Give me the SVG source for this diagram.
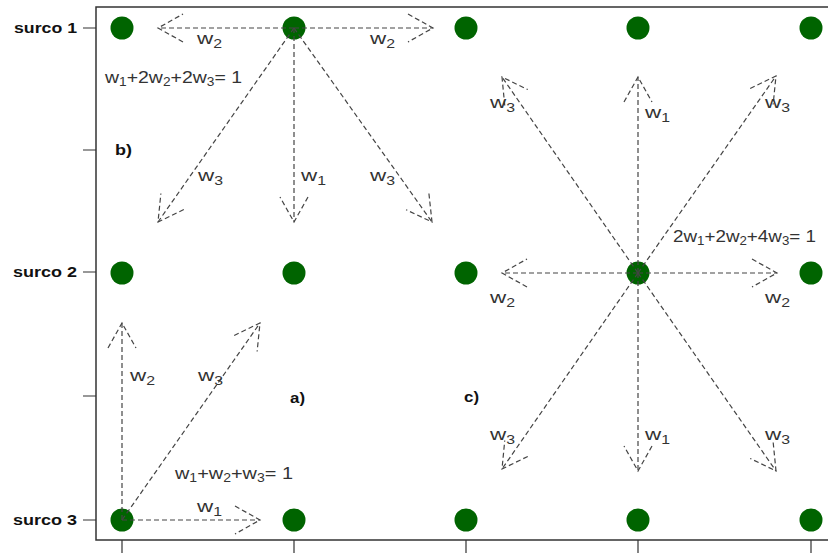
<svg xmlns="http://www.w3.org/2000/svg" width="828" height="553" viewBox="0 0 828 553">
<defs>
<style>
.frame{fill:none;stroke:#333;stroke-width:1.5}
.tick{stroke:#333;stroke-width:1.2}
.dot{fill:#006400}
.arr{fill:none;stroke:#444;stroke-width:1.2;stroke-dasharray:5 3;marker-end:url(#head)}
.lbl{font-family:"Liberation Sans",Arial,sans-serif;font-size:17px;fill:#333}
.sub{font-size:12px}
.bold{font-family:"Liberation Sans",Arial,sans-serif;font-size:15px;font-weight:bold;fill:#111}
</style>
<marker id="head" markerUnits="userSpaceOnUse" markerWidth="60" markerHeight="60" refX="0" refY="0" orient="auto" overflow="visible">
<path d="M -25 -14 L 0 0 L -25 14" fill="none" stroke="#444" stroke-width="1.2" stroke-dasharray="5 3"/>
</marker>
</defs>
<rect width="828" height="553" fill="#fff"/>
<g id="axes">
<path class="frame" d="M 830 7 H 96 V 540 H 830"/>
<path class="tick" d="M 83 28 H 96 M 83 150 H 96 M 83 272 H 96 M 83 396 H 96 M 83 520 H 96 M 122 540 V 553 M 294 540 V 553 M 466 540 V 553 M 638 540 V 553 M 811 540 V 553"/>
<text class="bold" x="77" y="33" text-anchor="end" textLength="63" lengthAdjust="spacingAndGlyphs">surco 1</text>
<text class="bold" x="77" y="277" text-anchor="end" textLength="64" lengthAdjust="spacingAndGlyphs">surco 2</text>
<text class="bold" x="77" y="525" text-anchor="end" textLength="64" lengthAdjust="spacingAndGlyphs">surco 3</text>
</g>
<g id="dots">
<circle class="dot" cx="122" cy="28" r="11.5"/><circle class="dot" cx="294" cy="28" r="11.5"/><circle class="dot" cx="466" cy="28" r="11.5"/><circle class="dot" cx="638" cy="28" r="11.5"/><circle class="dot" cx="811" cy="28" r="11.5"/>
<circle class="dot" cx="122" cy="273" r="11.5"/><circle class="dot" cx="294" cy="273" r="11.5"/><circle class="dot" cx="466" cy="273" r="11.5"/><circle class="dot" cx="638" cy="273" r="11.5"/><circle class="dot" cx="811" cy="273" r="11.5"/>
<circle class="dot" cx="122" cy="520" r="11.5"/><circle class="dot" cx="294" cy="520" r="11.5"/><circle class="dot" cx="466" cy="520" r="11.5"/><circle class="dot" cx="638" cy="520" r="11.5"/><circle class="dot" cx="811" cy="520" r="11.5"/>
</g>
<g id="connectors">
<line class="arr" x1="294" y1="28" x2="158" y2="28"/>
<line class="arr" x1="294" y1="28" x2="433" y2="28"/>
<line class="arr" x1="294" y1="28" x2="294" y2="222"/>
<line class="arr" x1="294" y1="28" x2="158" y2="222"/>
<line class="arr" x1="294" y1="28" x2="432" y2="222"/>
<line class="arr" x1="638" y1="273" x2="502" y2="77"/>
<line class="arr" x1="638" y1="273" x2="638" y2="77"/>
<line class="arr" x1="638" y1="273" x2="776" y2="76"/>
<line class="arr" x1="638" y1="273" x2="502" y2="273"/>
<line class="arr" x1="638" y1="273" x2="777" y2="273"/>
<line class="arr" x1="638" y1="273" x2="502" y2="469"/>
<line class="arr" x1="638" y1="273" x2="638" y2="471"/>
<line class="arr" x1="638" y1="273" x2="776" y2="471"/>
<line class="arr" x1="122" y1="520" x2="122" y2="323"/>
<line class="arr" x1="122" y1="520" x2="260" y2="323"/>
<line class="arr" x1="122" y1="520" x2="260" y2="520"/>
</g>
<g id="panel-b">
<text class="bold" x="115" y="155" textLength="17" lengthAdjust="spacingAndGlyphs">b)</text>
<text class="lbl" x="197" y="44" textLength="25" lengthAdjust="spacingAndGlyphs">w<tspan class="sub" dy="4">2</tspan></text>
<text class="lbl" x="370" y="44" textLength="25" lengthAdjust="spacingAndGlyphs">w<tspan class="sub" dy="4">2</tspan></text>
<text class="lbl" x="105" y="83" textLength="137" lengthAdjust="spacingAndGlyphs">w<tspan class="sub" dy="3">1</tspan><tspan dy="-3">+2w</tspan><tspan class="sub" dy="3">2</tspan><tspan dy="-3">+2w</tspan><tspan class="sub" dy="3">3</tspan><tspan dy="-3">= 1</tspan></text>
<text class="lbl" x="198" y="181" textLength="25" lengthAdjust="spacingAndGlyphs">w<tspan class="sub" dy="4">3</tspan></text>
<text class="lbl" x="301" y="181" textLength="25" lengthAdjust="spacingAndGlyphs">w<tspan class="sub" dy="4">1</tspan></text>
<text class="lbl" x="370" y="181" textLength="25" lengthAdjust="spacingAndGlyphs">w<tspan class="sub" dy="4">3</tspan></text>
</g>
<g id="panel-c">
<text class="bold" x="464" y="402" textLength="15" lengthAdjust="spacingAndGlyphs">c)</text>
<text class="lbl" x="490" y="108" textLength="25" lengthAdjust="spacingAndGlyphs">w<tspan class="sub" dy="4">3</tspan></text>
<text class="lbl" x="645" y="118" textLength="25" lengthAdjust="spacingAndGlyphs">w<tspan class="sub" dy="4">1</tspan></text>
<text class="lbl" x="765" y="108" textLength="25" lengthAdjust="spacingAndGlyphs">w<tspan class="sub" dy="4">3</tspan></text>
<text class="lbl" x="673" y="242" textLength="143" lengthAdjust="spacingAndGlyphs">2w<tspan class="sub" dy="3">1</tspan><tspan dy="-3">+2w</tspan><tspan class="sub" dy="3">2</tspan><tspan dy="-3">+4w</tspan><tspan class="sub" dy="3">3</tspan><tspan dy="-3">= 1</tspan></text>
<text class="lbl" x="490" y="303" textLength="25" lengthAdjust="spacingAndGlyphs">w<tspan class="sub" dy="4">2</tspan></text>
<text class="lbl" x="765" y="303" textLength="25" lengthAdjust="spacingAndGlyphs">w<tspan class="sub" dy="4">2</tspan></text>
<text class="lbl" x="490" y="440" textLength="25" lengthAdjust="spacingAndGlyphs">w<tspan class="sub" dy="4">3</tspan></text>
<text class="lbl" x="645" y="440" textLength="25" lengthAdjust="spacingAndGlyphs">w<tspan class="sub" dy="4">1</tspan></text>
<text class="lbl" x="765" y="440" textLength="25" lengthAdjust="spacingAndGlyphs">w<tspan class="sub" dy="4">3</tspan></text>
</g>
<g id="panel-a">
<text class="bold" x="290" y="403" textLength="15" lengthAdjust="spacingAndGlyphs">a)</text>
<text class="lbl" x="130" y="381" textLength="25" lengthAdjust="spacingAndGlyphs">w<tspan class="sub" dy="4">2</tspan></text>
<text class="lbl" x="198" y="381" textLength="25" lengthAdjust="spacingAndGlyphs">w<tspan class="sub" dy="4">3</tspan></text>
<text class="lbl" x="175" y="479" textLength="118" lengthAdjust="spacingAndGlyphs">w<tspan class="sub" dy="3">1</tspan><tspan dy="-3">+w</tspan><tspan class="sub" dy="3">2</tspan><tspan dy="-3">+w</tspan><tspan class="sub" dy="3">3</tspan><tspan dy="-3">= 1</tspan></text>
<text class="lbl" x="197" y="512" textLength="25" lengthAdjust="spacingAndGlyphs">w<tspan class="sub" dy="4">1</tspan></text>
</g>
</svg>
